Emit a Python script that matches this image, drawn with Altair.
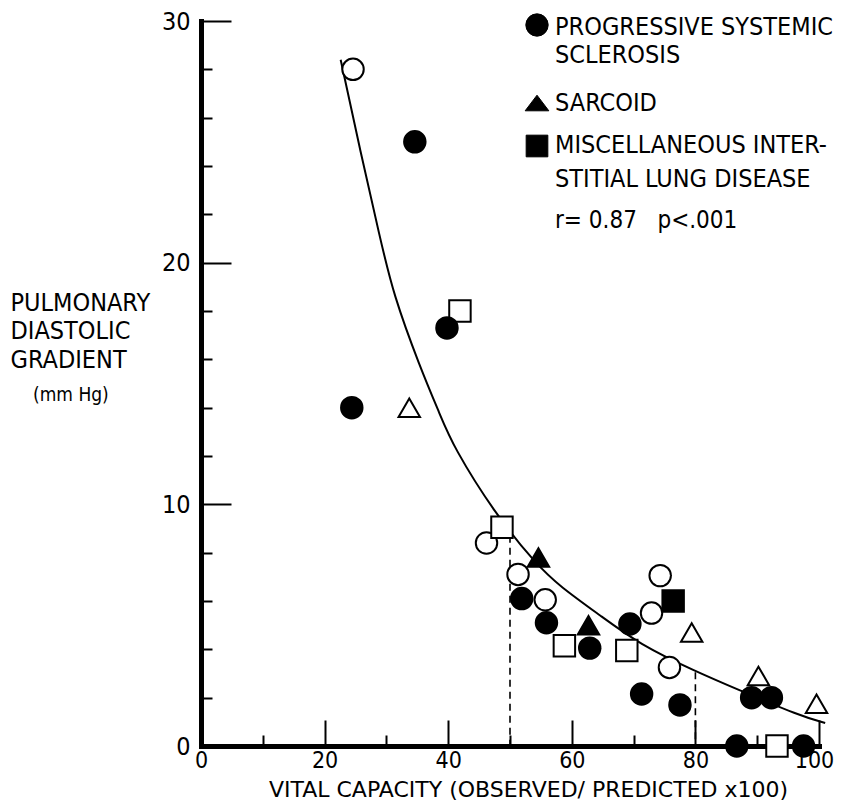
import altair as alt
import pandas as pd

# ---------------- data ----------------
# open symbols
open_circle_x = [24.6, 46.2, 51.3, 55.7, 74.3, 72.9, 75.8]
open_circle_y = [28.0, 8.4, 7.1, 6.05, 7.05, 5.5, 3.25]
open_square_x = [41.9, 48.7, 58.8, 68.9, 93.2]
open_square_y = [18.0, 9.05, 4.15, 3.95, 0.0]
open_tri_x = [33.7, 79.4, 90.2, 99.6]
open_tri_y = [14.0, 4.7, 2.9, 1.75]
# filled symbols
fill_circle_x = [34.6, 39.8, 24.4, 51.9, 55.9, 62.9, 69.4, 71.3, 77.5, 89.1, 92.3, 86.7, 97.5]
fill_circle_y = [25.0, 17.3, 14.0, 6.1, 5.1, 4.05, 5.05, 2.15, 1.7, 2.0, 2.0, 0.0, 0.0]
fill_square_x = [76.4]
fill_square_y = [6.0]
fill_tri_x = [54.6, 62.7]
fill_tri_y = [7.8, 5.0]

# fitted curve
curve_x = [22.6, 25.7, 29.0, 31.1, 35.4, 38.7, 40.8, 47.6, 54.3, 58.1, 64.6, 71.0, 79.9, 87.2, 96.9, 101.0]
curve_y = [28.4, 24.7, 21.0, 18.7, 15.7, 13.7, 12.4, 9.6, 7.5, 6.6, 5.4, 4.2, 3.1, 2.3, 1.25, 0.95]

# dashed drop lines
dash_x = [50, 80]
dash_top = [8.7, 3.05]

x_major = [0, 20, 40, 60, 80, 100]
x_major_ticks = [20, 40, 60, 80, 100]
x_minor_ticks = [10, 30, 50, 70, 90]
y_major = [0, 10, 20, 30]
y_major_ticks = [10, 20, 30]
y_minor_ticks = [2, 4, 6, 8, 12, 14, 16, 18, 22, 24, 26, 28]

groups = ["PSS", "SARC", "MISC"]
shapes = ["circle", "triangle-up", "square"]
legend_shapes = ["circle", "M0,-0.66L1,0.66L-1,0.66Z", "square"]
legend_lines = [["PROGRESSIVE SYSTEMIC", "SCLEROSIS"], ["SARCOID"],
                ["MISCELLANEOUS INTER-", "STITIAL LUNG DISEASE"]]
stat_text = "r= 0.87\u00a0\u00a0\u00a0p<.001"
x_title = "VITAL CAPACITY (OBSERVED/ PREDICTED x100)"
y_title = ["PULMONARY", "DIASTOLIC", "GRADIENT"]
y_unit = "(mm Hg)"

# ---------------- build tables ----------------
rows = []
def add(xs, ys, g, s):
    for a, b in zip(xs, ys):
        rows.append({"x": a, "y": b, "group": g, "style": s})
add(open_circle_x, open_circle_y, "PSS", "open")
add(open_square_x, open_square_y, "MISC", "open")
add(open_tri_x, open_tri_y, "SARC", "open")
add(fill_circle_x, fill_circle_y, "PSS", "filled")
add(fill_square_x, fill_square_y, "MISC", "filled")
add(fill_tri_x, fill_tri_y, "SARC", "filled")
pts = pd.DataFrame(rows)
curve = pd.DataFrame({"x": curve_x, "y": curve_y})
dashes = pd.DataFrame({"x": dash_x, "top": dash_top})

FONT = "DejaVu Sans Condensed, Liberation Sans Narrow, sans-serif"
FONT_WIDE = "DejaVu Sans, sans-serif"
W, H = 618, 725

xs = alt.Scale(domain=[0, 100], nice=False, zero=False)
ys = alt.Scale(domain=[0, 30], nice=False, zero=False)


def tick_axis(orient, values, size):
    off = -H if orient == "top" else -W
    return alt.Axis(orient=orient, offset=off, values=values, labels=False, domain=False,
                    grid=False, tickColor="black", tickWidth=2, tickSize=size, title=None)


# main layer with labelled axes
points = alt.Chart(pts).mark_point(filled=True, size=460, stroke="black", strokeWidth=2, opacity=1).encode(
    x=alt.X("x:Q", scale=xs, axis=alt.Axis(
        orient="bottom", values=x_major, ticks=False, tickSize=0, domainWidth=5, domainColor="black",
        domainCap="square", grid=False, labelFont=FONT, labelFontSize=23, labelColor="black",
        labelPadding=3, labelFlush=False,
        labelOffset={"condition": {"test": "datum.value === 100", "value": -5}, "value": 0},
        title=x_title, titleFont=FONT_WIDE, titleFontSize=22,
        titleFontWeight="normal", titleColor="black", titleX=327, titleY=50,
        titleAlign="center", titleBaseline="alphabetic")),
    y=alt.Y("y:Q", scale=ys, axis=alt.Axis(
        orient="left", values=y_major, ticks=False, tickSize=0, domainWidth=5, domainColor="black",
        domainCap="square", grid=False, labelFont=FONT, labelFontSize=25, labelColor="black",
        labelPadding=11, labelFlush=False, title=y_title, titleFont=FONT, titleFontSize=25,
        titleFontWeight="normal", titleColor="black", titleAngle=0, titleX=-191, titleY=289,
        titleAlign="left", titleBaseline="alphabetic", titleLineHeight=28.5)),
    shape=alt.Shape("group:N", scale=alt.Scale(domain=groups, range=shapes), legend=None),
    fill=alt.Fill("style:N", scale=alt.Scale(domain=["open", "filled"], range=["white", "black"]), legend=None),
)

# curve carries the inward minor ticks
line = alt.Chart(curve).mark_line(color="black", strokeWidth=2, interpolate="basis", clip=False).encode(
    x=alt.X("x:Q", scale=xs, axis=tick_axis("top", x_minor_ticks, 11)),
    y=alt.Y("y:Q", scale=ys, axis=tick_axis("right", y_minor_ticks, 11)),
)

# dashed drops carry the inward major ticks
drops = alt.Chart(dashes).transform_calculate(base="0").mark_rule(
    color="black", strokeWidth=1.6, strokeDash=[7, 5]).encode(
    x=alt.X("x:Q", scale=xs, axis=tick_axis("top", x_major_ticks, 26)),
    y=alt.Y("top:Q", scale=ys, axis=tick_axis("right", y_major_ticks, 30)),
    y2="base:Q",
)

layers = [drops, line, points]

# legend (pixel placement relative to plot origin)
LX_SYM, LX_TXT = 336, 354
sym_y = [4, 82, 125]
sym_size = [500, 560, 470]
txt_y = [[14, 42], [90], [132, 166]]
for g, shp, sy, ss, lines, tys in zip(groups, legend_shapes, sym_y, sym_size, legend_lines, txt_y):
    layers.append(alt.Chart(pd.DataFrame({"g": [g]})).mark_point(
        shape=shp, filled=True, fill="black", stroke="black", strokeWidth=1, size=ss, opacity=1
    ).encode(x=alt.value(LX_SYM), y=alt.value(sy)))
    for t, ty in zip(lines, tys):
        layers.append(alt.Chart(pd.DataFrame({"t": [t]})).mark_text(
            font=FONT, fontSize=25, align="left", baseline="alphabetic", color="black"
        ).encode(x=alt.value(LX_TXT), y=alt.value(ty), text="t:N"))

layers.append(alt.Chart(pd.DataFrame({"t": [stat_text]})).mark_text(
    font=FONT, fontSize=24, align="left", baseline="alphabetic", color="black"
).encode(x=alt.value(LX_TXT), y=alt.value(207), text="t:N"))

layers.append(alt.Chart(pd.DataFrame({"t": [y_unit]})).mark_text(
    font=FONT, fontSize=19, align="left", baseline="alphabetic", color="black"
).encode(x=alt.value(-168), y=alt.value(380), text="t:N"))

chart = alt.layer(*layers).resolve_axis(x="independent", y="independent").properties(
    width=W, height=H, autosize="none",
    padding={"left": 193, "top": 13, "right": 18, "bottom": 55},
    background="white",
).configure_view(stroke=None)

chart.save("out.html", embed_options={"renderer": "svg", "actions": False})
